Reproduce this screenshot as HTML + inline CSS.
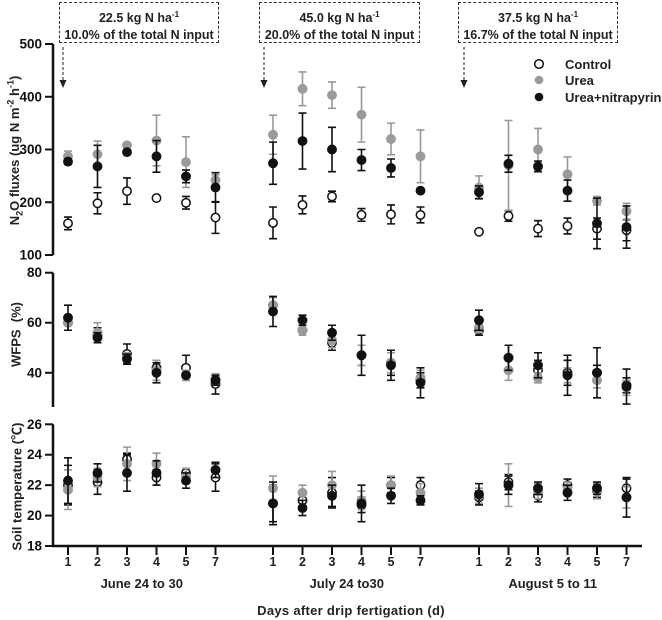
<!DOCTYPE html>
<html><head><meta charset="utf-8"><style>
body{margin:0;background:#fff;}
svg{display:block;font-family:"Liberation Sans",sans-serif;font-weight:bold;}
</style></head><body>
<svg id="c" width="662" height="620" viewBox="0 0 662 620" xmlns="http://www.w3.org/2000/svg"></svg>
<script>
const dayLabels=["1","2","3","4","5","7"];
const groupLabels=["June 24 to 30","July 24 to30","August 5 to 11"];
const n2oTicks=[100,200,300,400,500];
const wfpsTicks=[40,60,80];
const tempTicks=[18,20,22,24,26];
// N2O fluxes (18 points: 3 groups x 6 days)
const n2oControl=[160,198,221,208,199,171, 161,195,211,176,177,176, 144,174,150,155,150,147];
const n2oControlErr=[12,20,25,0,12,30, 30,17,10,12,18,15, 0,10,15,15,20,20];
const n2oUrea=[287,291,308,317,276,242, 328,415,403,366,320,287, 228,270,300,253,203,183];
const n2oUreaErr=[10,25,0,48,48,10, 37,32,25,52,30,50, 22,85,40,33,8,15];
const n2oNitra=[277,268,295,287,249,228, 274,316,300,280,265,222, 219,273,268,222,160,153];
const n2oNitraErr=[5,40,0,30,12,28, 40,53,42,20,17,0, 12,16,10,20,48,40];
// WFPS
const wfpsControl=[60,55,47.5,42,42,35.5, 67,57,52,47,44,37, 57,46,41,40,40,35];
const wfpsControlErr=[3,3,4,3,5,4, 3,2,3,4,5,3, 2,5,4,5,3,3];
const wfpsUrea=[60,56,46,41,39,37.5, 67,57,53,47,44,38, 58,41,38,39,37,34];
const wfpsUreaErr=[3,4,2,4,2,2, 3,2,3,4,4,3, 2,4,2,3,3,3];
const wfpsNitra=[62,54,45.5,40,39,37, 64.5,61,56,47,43,36, 61,46,43,39,40,34.5];
const wfpsNitraErr=[5,2,2,4,1,2, 6,2,3,8,6,6, 4,5,5,8,10,7];
// Soil temperature
const tempControl=[22,22.2,23.7,22.5,22.8,22.5, 20.8,21,21.5,20.7,22,22, 21.2,22.2,21.3,22,21.6,21.8];
const tempControlErr=[1.3,0.8,0.4,0.5,0.3,0.9, 1.2,0.6,1.0,0.5,0.5,0.5, 0.4,0.5,0.4,0.4,0.4,0.6];
const tempUrea=[21.7,22.5,23.4,23.4,22.6,23, 21.8,21.5,22,21,22,21.5, 21.3,22,21.6,21.8,21.6,21.2];
const tempUreaErr=[1.3,0.6,1.1,0.7,0.5,0.5, 0.8,0.5,0.9,0.6,0.6,0.6, 0.5,1.4,0.5,0.4,0.5,0.7];
const tempNitra=[22.3,22.8,22.8,22.8,22.3,23, 20.8,20.5,21.3,20.8,21.3,21, 21.4,22,21.8,21.5,21.8,21.2];
const tempNitraErr=[1.5,0.6,1.2,0.8,0.5,0.5, 1.4,0.5,0.7,1.2,0.5,0.3, 0.7,0.6,0.4,0.5,0.4,1.3];

const NS="http://www.w3.org/2000/svg";
const svg=document.getElementById('c');
function mk(t,a,p){const e=document.createElementNS(NS,t);for(const k in a)e.setAttribute(k,a[k]);(p||svg).appendChild(e);return e;}
const groupStart=[68,273,479], step=29.5;
function xPos(i){return groupStart[Math.floor(i/6)]+(i%6)*step;}
const panels=[
 {y0:44,y1:255,vmin:100,vmax:500,axBot:255,ticks:n2oTicks,name:'n2o',s:[[n2oControl,n2oControlErr],[n2oUrea,n2oUreaErr],[n2oNitra,n2oNitraErr]]},
 {y0:272.7,y1:407.3,vmin:26.2,vmax:80,axBot:407,ticks:wfpsTicks,name:'wfps',s:[[wfpsControl,wfpsControlErr],[wfpsUrea,wfpsUreaErr],[wfpsNitra,wfpsNitraErr]]},
 {y0:424.3,y1:546,vmin:18,vmax:26,axBot:546,ticks:tempTicks,name:'temp',s:[[tempControl,tempControlErr],[tempUrea,tempUreaErr],[tempNitra,tempNitraErr]]}
];
const styles=[{fill:'#fff',stroke:'#111',err:'#111',n:'control'},{fill:'#9a9a9a',stroke:'#9a9a9a',err:'#999',n:'urea'},{fill:'#111',stroke:'#111',err:'#111',n:'urea-nitrapyrin'}];
panels.forEach(p=>{
 const sy=v=>p.y1-(v-p.vmin)/(p.vmax-p.vmin)*(p.y1-p.y0);
 const g=mk('g',{});
 
 
 const ax=mk('line',{x1:53,x2:53,y1:p.y0,y2:p.axBot,stroke:'#111','stroke-width':2.5},g);
 
 
 p.ticks.forEach(t=>{
  const y=sy(t);
  mk('line',{x1:45,x2:53,y1:y,y2:y,stroke:'#111','stroke-width':2},g);
  const tx=mk('text',{x:42,y:y+4.5,'text-anchor':'end','font-size':13.5,fill:'#111'},g);
  tx.textContent=t;
  
  
 });
 p.s.forEach((s,si)=>{
  const st=styles[si];
  s[0].forEach((v,i)=>{
   const x=xPos(i), y=sy(v), e=s[1][i];
   if(e>0){
    const ya=sy(v+e), yb=sy(v-e);
    mk('path',{d:`M${x},${ya}V${yb}M${x-4},${ya}H${x+4}M${x-4},${yb}H${x+4}`,stroke:st.err,'stroke-width':1.6,fill:'none'},g);
   }
   const c=mk('circle',{cx:x,cy:y,r:4.2,fill:st.fill,stroke:st.stroke,'stroke-width':1.5},g);
   
   
  });
 });
});
// x axis
const xa=mk('line',{x1:52,x2:642,y1:546,y2:546,stroke:'#111','stroke-width':2.5});


for(let i=0;i<18;i++){
 const x=xPos(i);
 mk('line',{x1:x,x2:x,y1:546,y2:555,stroke:'#111','stroke-width':2});
 const t=mk('text',{x:x,y:566,'text-anchor':'middle','font-size':12.5,fill:'#222'});
 t.textContent=dayLabels[i%6];
 
 
}
groupLabels.forEach((l,i)=>{
 const t=mk('text',{x:groupStart[i]+2.5*step,y:588,'text-anchor':'middle','font-size':13,fill:'#222'});
 t.textContent=l;
 
 
});
</script>
<div style="position:absolute;left:0;width:662px;top:603px;text-align:center;font:bold 13px 'Liberation Sans',sans-serif;color:#222;letter-spacing:0.3px;padding-left:40px;box-sizing:border-box">Days after drip fertigation (d)</div>
<div style="position:absolute;left:-95px;top:141px;width:220px;text-align:center;transform:rotate(-90deg);font:bold 13px 'Liberation Sans',sans-serif;color:#222">N<sub style="font-size:9px">2</sub>O fluxes (ug N m<sup style="font-size:9px">-2</sup> h<sup style="font-size:9px">-1</sup>)</div>
<div style="position:absolute;left:-34px;top:327px;width:100px;text-align:center;transform:rotate(-90deg);font:bold 13px 'Liberation Sans',sans-serif;color:#222">WFPS &nbsp;(%)</div>
<div style="position:absolute;left:-74px;top:477px;width:180px;text-align:center;transform:rotate(-90deg);font:bold 13px 'Liberation Sans','Noto Sans CJK SC',sans-serif;color:#222">Soil temperature (℃)</div>
<div style="position:absolute;left:59px;top:2px;width:160px;border:1px dashed #333;text-align:center;font:bold 12.5px 'Liberation Sans',sans-serif;color:#222;line-height:17px;padding-top:3px;box-sizing:border-box;height:41px">22.5 kg N ha<sup style="font-size:8px">-1</sup><br>10.0% of the total N input</div>
<div style="position:absolute;left:259px;top:2px;width:161px;height:41px;border:1px dashed #333;text-align:center;font:bold 12.5px 'Liberation Sans',sans-serif;color:#222;line-height:17px;padding-top:3px;box-sizing:border-box">45.0 kg N ha<sup style="font-size:8px">-1</sup><br>20.0% of the total N input</div>
<div style="position:absolute;left:458px;top:2px;width:160px;height:41px;border:1px dashed #333;text-align:center;font:bold 12.5px 'Liberation Sans',sans-serif;color:#222;line-height:17px;padding-top:3px;box-sizing:border-box">37.5 kg N ha<sup style="font-size:8px">-1</sup><br>16.7% of the total N input</div>
<svg width="662" height="120" style="position:absolute;left:0;top:0;font-family:'Liberation Sans',sans-serif;font-weight:bold">
 <g><line x1="63" y1="47" x2="63" y2="81" stroke="#222" stroke-dasharray="3,2"/><path d="M59.5,80 L66.5,80 L63,88Z" fill="#222"/></g>
 <g><line x1="264" y1="47" x2="264" y2="81" stroke="#222" stroke-dasharray="3,2"/><path d="M260.5,80 L267.5,80 L264,88Z" fill="#222"/></g>
 <g><line x1="464" y1="47" x2="464" y2="81" stroke="#222" stroke-dasharray="3,2"/><path d="M460.5,80 L467.5,80 L464,88Z" fill="#222"/></g>
 <g>
  <circle cx="539" cy="64" r="4.3" fill="#fff" stroke="#111" stroke-width="1.5"/><text x="565" y="69" font-size="13" fill="#222">Control</text>
  <circle cx="539" cy="80" r="4.3" fill="#9a9a9a"/><text x="565" y="85" font-size="13" fill="#222">Urea</text>
  <circle cx="539" cy="97" r="4.3" fill="#111"/><text x="565" y="102" font-size="13" fill="#222">Urea+nitrapyrin</text>
 </g>
</svg>
</body></html>
